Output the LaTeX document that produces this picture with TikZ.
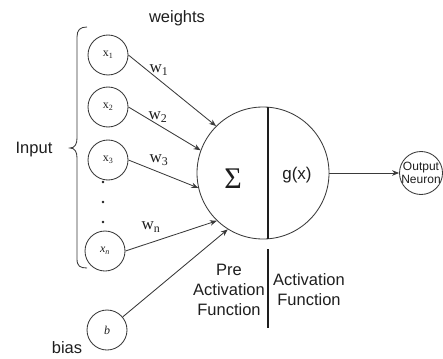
\documentclass[tikz,border=0pt]{standalone}
\usepackage{fontspec}
\setmainfont{Liberation Sans}
\newfontfamily\serifrm{Liberation Serif}
\usetikzlibrary{arrows.meta}
\definecolor{ink}{HTML}{3A3A3A}
\definecolor{txt}{HTML}{1E1E1E}

\begin{document}
\begin{tikzpicture}[x=1pt,y=-1pt,
  wire/.style={draw=ink,line width=0.85pt},
  arrow/.style={wire,-{Stealth[length=7pt,width=5.5pt]}},
  divider/.style={draw=txt,line width=1.6pt},
  inputnode/.style={circle,draw=ink,line width=0.85pt,minimum size=40pt,inner sep=0pt,
    text=txt,font=\serifrm\fontsize{12}{14}\selectfont},
  neuron/.style={circle,draw=ink,line width=0.85pt,minimum size=132pt,inner sep=0pt},
  outnode/.style={circle,draw=ink,line width=0.85pt,minimum size=43pt,inner sep=-6pt,
    align=center,text=txt,font=\fontsize{12}{12.5}\selectfont},
  label/.style={text=txt,inner sep=0pt,font=\fontsize{16.5}{20}\selectfont,align=center},
  wlabel/.style={text=txt,inner sep=0pt,font=\serifrm\fontsize{17}{18}\selectfont},
  dot/.style={circle,fill=txt,inner sep=0pt,minimum size=2.8pt}
]
\useasboundingbox (0,0) rectangle (443,358);

% inputs and bias
\node[inputnode] (x1) at (108,55)  {x\textsubscript{1}};
\node[inputnode] (x2) at (108,107) {x\textsubscript{2}};
\node[inputnode] (x3) at (108,160) {x\textsubscript{3}};
\node[inputnode] (xn) at (105,251) {\itshape x\textsubscript{n}};
\node[inputnode] (b)  at (107,330) {\itshape b};

\node[dot] (d1) at (103,182) {};
\node[dot] (d2) at (103,202) {};
\node[dot] (d3) at (103,222) {};

% the neuron: summation and activation halves
\node[neuron] (sum) at (263,173) {};
\draw[divider] ([xshift=5pt]sum.north) -- ([xshift=5pt]sum.south);
\node[inner sep=0pt,text=txt,font=\serifrm\fontsize{30}{30}\selectfont] (sigma) at (233,179) {Σ};
\node[label,font=\fontsize{17}{18}\selectfont] (gx) at (297,175) {g(x)};

% output
\node[outnode] (out) at (421,173) {Output\\Neuron};
\draw[arrow] (sum.east) -- (out.west);

% weighted connections
\draw[arrow] (x1.east) -- (sum.135);
\draw[arrow] (x2.east) -- (sum.160);
\draw[arrow] (x3.east) -- (sum.193);
\draw[arrow] (xn.east) -- (sum.226);
\draw[arrow] (b) -- (sum.238);

\node[wlabel] (w1) at (159,70)  {w\textsubscript{1}};
\node[wlabel] (w2) at (158,117) {w\textsubscript{2}};
\node[wlabel] (w3) at (159,160) {w\textsubscript{3}};
\node[wlabel] (wn) at (151,227) {w\textsubscript{n}};

% brace grouping the inputs
\draw[wire] (87,27) .. controls (80,27) and (77,30) .. (77,37) -- (77,138)
  .. controls (77,144) and (75,148) .. (70,148)
  .. controls (75,148) and (77,152) .. (77,158) -- (77,259)
  .. controls (77,266) and (80,268) .. (87,268);

% captions
\node[label] (input) at (34,150) {Input};
\node[label] (weights) at (177,18) {weights};
\node[label] (bias) at (67,348) {bias};

\coordinate (stop) at (268,249);
\coordinate (sbot) at (268,328);
\draw[divider] (stop) -- (sbot);
\node[label] (pre) at (229,290) {Pre\\Activation\\Function};
\node[label] (act) at (309,290) {Activation\\Function};
\end{tikzpicture}
\end{document}
